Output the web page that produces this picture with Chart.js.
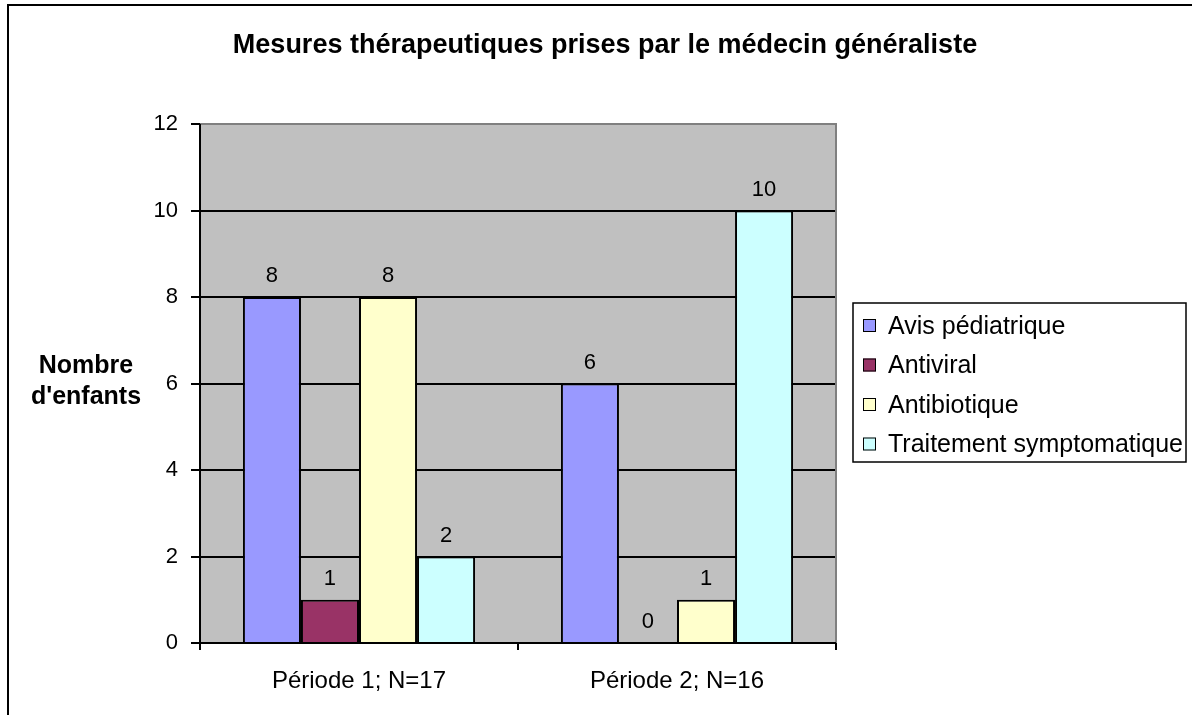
<!DOCTYPE html>
<html>
<head>
    <title>Mesures thérapeutiques</title>
    <script src="https://cdn.jsdelivr.net/npm/chart.js"></script>
    <style>
        html, body { margin: 0; padding: 0; background: white; }
        #wrap { width: 1192px; height: 715px; position: relative; }
    </style>
</head>
<body>
    <div id="wrap"><canvas id="chart" width="1192" height="715"></canvas></div>

    <script>
        // Data
        const periods = ['Période 1; N=17', 'Période 2; N=16'];
        const avisPediatrique = [8, 6];
        const antiviral = [1, 0];
        const antibiotique = [8, 1];
        const traitementSymptomatique = [2, 10];
        const seriesNames = ['Avis pédiatrique', 'Antiviral', 'Antibiotique', 'Traitement symptomatique'];
        const seriesColors = ['#9999FF', '#993366', '#FFFFCC', '#CCFFFF'];
        const yMax = 12;
        const yStep = 2;

        const chartTitle = 'Mesures thérapeutiques prises par le médecin généraliste';
        const yTitle = ['Nombre', "d'enfants"];
        const FONT = 'Arial, "Liberation Sans", sans-serif';

        // Outer frame, plot bg, title, y title, value labels, legend
        const decorations = {
            id: 'decorations',
            beforeDraw(chart) {
                const ctx = chart.ctx, a = chart.chartArea;
                ctx.save();
                ctx.fillStyle = '#C0C0C0';
                ctx.fillRect(a.left, a.top, a.right - a.left, a.bottom - a.top);
                ctx.restore();
            },
            afterDraw(chart) {
                const ctx = chart.ctx, a = chart.chartArea;
                ctx.save();
                // outer frame (only top/left are visible in the original)
                ctx.strokeStyle = '#000';
                ctx.lineWidth = 2;
                ctx.beginPath();
                ctx.moveTo(8, 720);
                ctx.lineTo(8, 5);
                ctx.lineTo(1200, 5);
                ctx.stroke();

                // plot area top/right border in gray
                ctx.strokeStyle = '#808080';
                ctx.beginPath();
                ctx.moveTo(a.left, a.top);
                ctx.lineTo(a.right, a.top);
                ctx.lineTo(a.right, a.bottom);
                ctx.stroke();

                // axis lines
                ctx.strokeStyle = '#000';
                ctx.beginPath();
                ctx.moveTo(a.left, a.top);
                ctx.lineTo(a.left, a.bottom);
                ctx.lineTo(a.right, a.bottom);
                ctx.stroke();

                // title
                ctx.fillStyle = '#000';
                ctx.font = 'bold 27px ' + FONT;
                ctx.textAlign = 'center';
                ctx.textBaseline = 'middle';
                ctx.fillText(chartTitle, 605, 46);

                // y title
                ctx.font = 'bold 25px ' + FONT;
                ctx.fillText(yTitle[0], 86, 366);
                ctx.fillText(yTitle[1], 86, 397);

                // value labels
                ctx.font = '22px ' + FONT;
                ctx.textBaseline = 'alphabetic';
                chart.data.datasets.forEach((ds, i) => {
                    chart.getDatasetMeta(i).data.forEach((bar, j) => {
                        ctx.fillText(String(ds.data[j]), bar.x, bar.y - 15);
                    });
                });

                // legend
                const lx = 853, ly = 303, lw = 333, lh = 159;
                ctx.fillStyle = '#fff';
                ctx.fillRect(lx, ly, lw, lh);
                ctx.strokeStyle = '#000';
                ctx.lineWidth = 1.5;
                ctx.strokeRect(lx, ly, lw, lh);
                ctx.font = '25px ' + FONT;
                ctx.textAlign = 'left';
                ctx.textBaseline = 'middle';
                chart.data.datasets.forEach((ds, i) => {
                    const cy = ly + 23 + i * 39.5;
                    ctx.fillStyle = ds.backgroundColor;
                    ctx.fillRect(lx + 10, cy - 7, 13, 13);
                    ctx.lineWidth = 1;
                    ctx.strokeStyle = '#000';
                    ctx.strokeRect(lx + 10.5, cy - 6.5, 12, 12);
                    ctx.fillStyle = '#000';
                    ctx.fillText(ds.label, lx + 35, cy + 1);
                });
                ctx.restore();
            }
        };

        const datasets = [avisPediatrique, antiviral, antibiotique, traitementSymptomatique].map((values, i) => ({
            label: seriesNames[i],
            data: values,
            backgroundColor: seriesColors[i],
            borderColor: '#000',
            borderWidth: 2,
            borderSkipped: 'bottom',
            barPercentage: 1.0,
            categoryPercentage: 0.73
        }));

        new Chart(document.getElementById('chart'), {
            type: 'bar',
            data: { labels: periods, datasets: datasets },
            options: {
                responsive: false,
                animation: false,
                devicePixelRatio: 1,
                layout: { padding: { left: 0, top: 124, right: 356, bottom: 0 } },
                plugins: {
                    legend: { display: false },
                    title: { display: false },
                    tooltip: { enabled: false }
                },
                scales: {
                    x: {
                        afterFit(scale) { scale.height = 72; },
                        grid: {
                            display: true,
                            offset: true,
                            drawOnChartArea: false,
                            drawTicks: true,
                            tickLength: 7,
                            color: '#000',
                            lineWidth: 2
                        },
                        border: { display: false },
                        ticks: {
                            color: '#000',
                            font: { family: FONT, size: 24 },
                            padding: 17,
                            maxRotation: 0
                        }
                    },
                    y: {
                        min: 0,
                        max: yMax,
                        afterFit(scale) { scale.width = 200; },
                        grid: {
                            color: '#000',
                            lineWidth: 2,
                            tickLength: 9
                        },
                        border: { display: false },
                        ticks: {
                            stepSize: yStep,
                            color: '#000',
                            font: { family: FONT, size: 22 },
                            padding: 13
                        }
                    }
                }
            },
            plugins: [decorations]
        });
    </script>
</body>
</html>
